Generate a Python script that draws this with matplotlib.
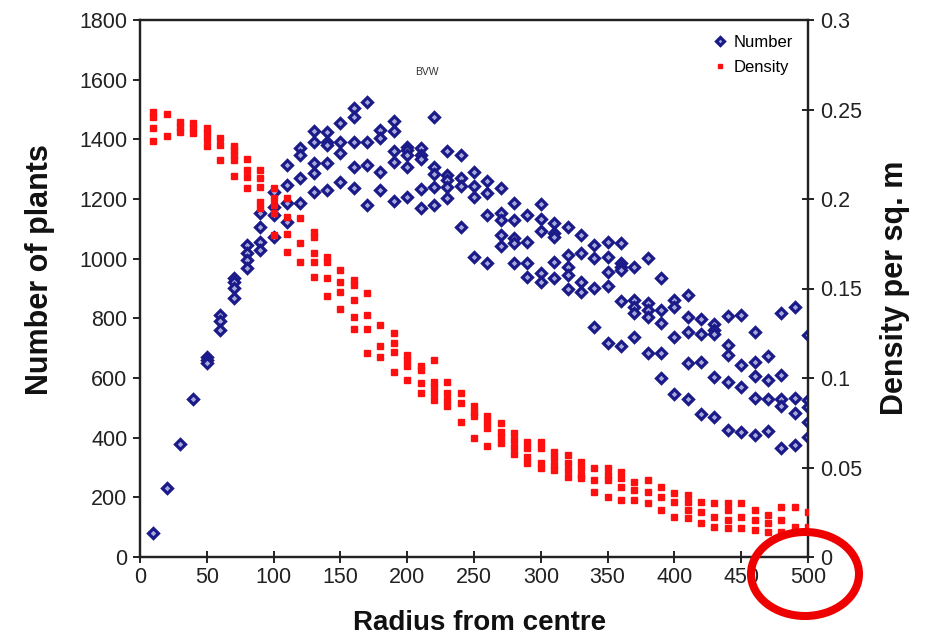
import matplotlib
matplotlib.use("Agg")
import matplotlib.pyplot as plt
from matplotlib.patches import Ellipse

plt.rcParams['font.family'] = ['Liberation Sans', 'DejaVu Sans']

radius = [10, 20, 30, 40, 50, 60, 70, 80, 90, 100,
          110, 120, 130, 140, 150, 160, 170, 180, 190, 200,
          210, 220, 230, 240, 250, 260, 270, 280, 290, 300,
          310, 320, 330, 340, 350, 360, 370, 380, 390, 400,
          410, 420, 430, 440, 450, 460, 470, 480, 490, 500]

number = [
    [80], [231], [379], [530], [670, 660, 650],
    [810, 790, 760], [935, 922, 902, 868], [1045, 1019, 995, 968],
    [1153, 1106, 1056, 1029], [1224, 1173, 1146, 1073],
    [1314, 1247, 1187, 1123], [1371, 1348, 1271, 1187],
    [1428, 1391, 1321, 1287, 1224], [1425, 1391, 1381, 1321, 1230],
    [1455, 1391, 1354, 1257], [1505, 1475, 1391, 1307, 1237],
    [1525, 1391, 1314, 1180], [1431, 1405, 1291, 1230],
    [1462, 1428, 1361, 1324, 1193], [1374, 1364, 1348, 1307, 1207],
    [1371, 1348, 1334, 1234, 1170], [1475, 1307, 1284, 1240, 1180],
    [1361, 1281, 1264, 1240, 1203], [1348, 1271, 1244, 1106],
    [1291, 1244, 1207, 1006], [1260, 1220, 1146, 986],
    [1237, 1153, 1130, 1079, 1043], [1187, 1130, 1069, 1053, 986],
    [1146, 1056, 986, 939], [1183, 1133, 1093, 952, 922],
    [1120, 1086, 1073, 989, 935], [1106, 1012, 972, 945, 898],
    [1079, 1019, 922, 888], [1046, 1002, 902, 771],
    [1056, 1006, 955, 908, 717], [1053, 986, 972, 962, 858, 707],
    [972, 862, 838, 818, 738], [1002, 852, 828, 805, 684],
    [935, 828, 784, 684, 600], [862, 838, 738, 546],
    [878, 805, 754, 650, 530], [798, 748, 654, 479],
    [781, 761, 748, 603, 469], [808, 711, 677, 587, 426],
    [811, 644, 570, 419], [754, 654, 607, 533, 409],
    [674, 593, 530, 422], [818, 610, 530, 506, 365],
    [838, 533, 483, 375], [744, 526, 503, 453, 402],
]

density = [
    [0.2486, 0.2458, 0.2397, 0.2324], [0.2475, 0.2352],
    [0.2430, 0.2402, 0.2374], [0.2425, 0.2397, 0.2369],
    [0.2397, 0.2369, 0.2335, 0.2296], [0.2341, 0.2302, 0.2218],
    [0.2296, 0.2274, 0.2246, 0.2218, 0.2128], [0.2223, 0.2162, 0.2123, 0.2061],
    [0.2162, 0.2117, 0.2067, 0.1983, 0.1950], [0.2061, 0.2006, 0.1966, 0.1922, 0.1799],
    [0.2006, 0.1900, 0.1804, 0.1704], [0.1894, 0.1754, 0.1648],
    [0.1816, 0.1788, 0.1698, 0.1648, 0.1564], [0.1676, 0.1648, 0.1559, 0.1458],
    [0.1603, 0.1536, 0.1480, 0.1385], [0.1547, 0.1520, 0.1436, 0.1341, 0.1274],
    [0.1475, 0.1352, 0.1274, 0.1140], [0.1296, 0.1179, 0.1117],
    [0.1251, 0.1196, 0.1145, 0.1034], [0.1128, 0.1101, 0.1067, 0.0989],
    [0.1067, 0.1045, 0.0972, 0.0916], [0.1101, 0.0978, 0.0950, 0.0916, 0.0877],
    [0.0978, 0.0916, 0.0877, 0.0844], [0.0916, 0.0860, 0.0754],
    [0.0844, 0.0810, 0.0788, 0.0665], [0.0788, 0.0754, 0.0721, 0.0620],
    [0.0749, 0.0698, 0.0670, 0.0637], [0.0693, 0.0654, 0.0615, 0.0575],
    [0.0642, 0.0609, 0.0559, 0.0525], [0.0642, 0.0609, 0.0525, 0.0497],
    [0.0587, 0.0553, 0.0514, 0.0486], [0.0570, 0.0525, 0.0486, 0.0447],
    [0.0530, 0.0497, 0.0458, 0.0441], [0.0497, 0.0430, 0.0363],
    [0.0497, 0.0458, 0.0430, 0.0335], [0.0475, 0.0441, 0.0391, 0.0318],
    [0.0419, 0.0374, 0.0318], [0.0430, 0.0363, 0.0302],
    [0.0391, 0.0335, 0.0263], [0.0358, 0.0307, 0.0223],
    [0.0346, 0.0307, 0.0263, 0.0218], [0.0307, 0.0251, 0.0190],
    [0.0302, 0.0223, 0.0168], [0.0302, 0.0263, 0.0207, 0.0162],
    [0.0302, 0.0223, 0.0162], [0.0263, 0.0207, 0.0151],
    [0.0235, 0.0190, 0.0140], [0.0279, 0.0207, 0.0140],
    [0.0279, 0.0168], [0.0251, 0.0168],
]

x_ticks = [0, 50, 100, 150, 200, 250, 300, 350, 400, 450, 500]
left_ticks = [0, 200, 400, 600, 800, 1000, 1200, 1400, 1600, 1800]
right_ticks = [0, 0.05, 0.1, 0.15, 0.2, 0.25, 0.3]
right_labels = ["0", "0.05", "0.1", "0.15", "0.2", "0.25", "0.3"]

nx = [r for r, vals in zip(radius, number) for _ in vals]
ny = [v for vals in number for v in vals]
dx = [r for r, vals in zip(radius, density) for _ in vals]
dy = [v for vals in density for v in vals]

W, H = 935, 643
fig = plt.figure(figsize=(W / 100, H / 100), dpi=100)
ax = fig.add_axes([140 / W, 1 - 557 / H, 668 / W, 537 / H])
ax2 = ax.twinx()

navy = '#1a1a88'
ax.plot(nx, ny, linestyle='none', marker='D', markersize=5.2,
        markerfacecolor='#a8a8dc', markeredgecolor=navy, markeredgewidth=2.3,
        label='Number', zorder=3)
ax2.plot(dx, dy, linestyle='none', marker='s', markersize=4.0,
         markerfacecolor='#ff1010', markeredgecolor='#ff1010',
         label='Density', zorder=3)

ax.set_xlim(0, 500)
ax.set_ylim(0, 1800)
ax2.set_ylim(0, 0.3)
ax.set_xticks(x_ticks)
ax.set_yticks(left_ticks)
ax2.set_yticks(right_ticks)
ax2.set_yticklabels(right_labels)

tick_color = '#222222'
for a in (ax, ax2):
    for s in a.spines.values():
        s.set_linewidth(1.6)
        s.set_color(tick_color)
ax.tick_params(axis='x', direction='inout', length=9, width=1.4, labelsize=15.5, pad=3, colors=tick_color)
ax.tick_params(axis='y', direction='out', length=5, width=1.4, labelsize=15.5, pad=4, colors=tick_color)
ax2.tick_params(axis='y', direction='inout', length=9, width=1.4, labelsize=15.5, pad=4, colors=tick_color)

fig.text(480 / W, 1 - 623 / H, 'Radius from centre', fontsize=20, fontweight='bold',
         ha='center', va='center', color='#111111')
fig.text(40 / W, 1 - 270 / H, 'Number of plants', fontsize=22, fontweight='bold',
         ha='center', va='center', rotation=90, color='#111111')
fig.text(895 / W, 1 - 288 / H, 'Density per sq. m', fontsize=22, fontweight='bold',
         ha='center', va='center', rotation=90, color='#111111')

ax.text(215, 1626, 'BVW', fontsize=7.5, ha='center', va='center', color='#333333')

h1, l1 = ax.get_legend_handles_labels()
h2, l2 = ax2.get_legend_handles_labels()
leg = ax2.legend(h1 + h2, l1 + l2, loc='upper right', frameon=False,
                 fontsize=12, handlelength=0.6, handletextpad=0.5,
                 markerscale=0.8, labelspacing=0.6,
                 bbox_to_anchor=(1.0, 1.0))

ell = Ellipse((805 / W, 1 - 574 / H), 108 / W, 84 / H, transform=fig.transFigure,
              fill=False, edgecolor='#ee0000', linewidth=5.8, clip_on=False, zorder=10)
fig.patches.append(ell)

fig.savefig('out.png', dpi=100)
